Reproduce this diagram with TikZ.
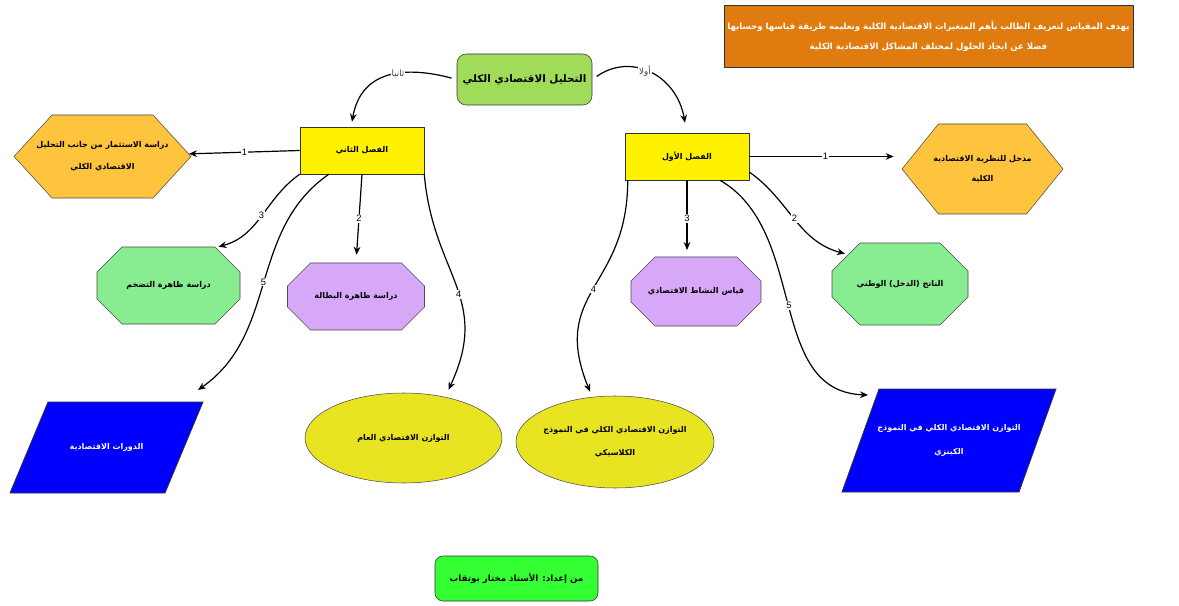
\documentclass[tikz,border=0pt]{standalone}
\usepackage{fontspec}
\newfontfamily\arabicfont[Script=Arabic]{DejaVu Sans}
\newfontfamily\latinfont{Liberation Sans}
\TeXXeTstate=1
\usetikzlibrary{shapes.geometric, shapes.misc, shapes.symbols, calc, arrows.meta}
\definecolor{boxorange}{RGB}{224,123,16}
\definecolor{rootgreen}{RGB}{160,220,90}
\definecolor{hexgold}{RGB}{255,196,61}
\definecolor{octgreen}{RGB}{136,236,144}
\definecolor{octpurple}{RGB}{216,168,248}
\definecolor{ellyellow}{RGB}{232,228,34}
\definecolor{signgreen}{RGB}{51,255,51}
\newcommand{\artxt}[1]{\makebox[0pt]{\beginR #1\endR}}
\newcommand{\arword}[1]{\beginR #1\endR}
\tikzset{
    artext/.style={font=\arabicfont\bfseries\fontsize{6}{15}\selectfont, align=center, inner sep=0pt},
    chapter/.style={artext, rectangle, draw=black!80, fill=yellow, minimum width=93pt, minimum height=35.25pt},
    hexa/.style={artext, signal, signal to=east and west, draw=black!70, fill=hexgold},
    octa/.style={artext, chamfered rectangle, draw=black!70},
    oval/.style={artext, ellipse, draw=black!70, fill=ellyellow},
    link/.style={-{Stealth[length=6pt,width=5pt]}, line width=0.9pt},
    num/.style={font=\latinfont\fontsize{7}{8}\selectfont, fill=white, inner sep=0.8pt},
    word/.style={font=\arabicfont\fontsize{6.5}{7}\selectfont, text=black!75, fill=white, inner sep=0.8pt},
}

\begin{document}
\begin{tikzpicture}[x=0.75pt, y=0.75pt]
            \useasboundingbox (0,0) rectangle (1179,-606);
            \fill[white] (0,0) rectangle (1179,-606);
            \node[artext, rectangle, draw=black!80, fill=boxorange, text=white, minimum width=306.75pt, minimum height=46.5pt,
                font=\arabicfont\bfseries\fontsize{6.4}{15}\selectfont] (aim) at (928.5,-36)
                {\artxt{يهدف المقياس لتعريف الطالب بأهم المتغيرات الاقتصادية الكلية وتعليمه طريقة قياسها وحسابها}\\
                 \artxt{فضلا عن ايجاد الحلول لمختلف المشاكل الاقتصادية الكلية}};
            \node[artext, rounded corners=7pt, draw=black!80, fill=rootgreen, minimum width=101.25pt, minimum height=38.25pt,
                font=\arabicfont\bfseries\fontsize{7.8}{10}\selectfont] (root) at (524.5,-79.5) {\artxt{التحليل الاقتصادي الكلي}};
            \node[chapter] (ch2) at (362,-150.5) {\artxt{الفصل الثاني}};
            \node[chapter] (ch1) at (687,-156.5) {\artxt{الفصل الأول}};

            \node[hexa, signal pointer angle=95, minimum width=132.75pt, minimum height=62.25pt,
                font=\arabicfont\bfseries\fontsize{6}{16.5}\selectfont] (hexL) at (102.5,-156.5)
                {\artxt{دراسة الاستثمار من جانب التحليل}\\\artxt{الاقتصادي الكلي}};
            \node[hexa, signal pointer angle=102, minimum width=120.75pt, minimum height=67.5pt] (hexR) at (982.5,-169)
                {\artxt{مدخل للنظرية الاقتصادية}\\\artxt{الكلية}};

            \node[octa, fill=octgreen, minimum width=107.25pt, minimum height=57.75pt,
                chamfered rectangle xsep=31.5pt, chamfered rectangle ysep=15.75pt] (octGL) at (168.5,-285.5) {\arword{دراسة ظاهرة التضخم}};
            \node[octa, fill=octpurple, minimum width=102.75pt, minimum height=50.25pt,
                chamfered rectangle xsep=30pt, chamfered rectangle ysep=14.25pt] (octPL) at (356,-296.5) {\arword{دراسة ظاهرة البطالة}};
            \node[octa, fill=octpurple, minimum width=97.5pt, minimum height=51.75pt,
                chamfered rectangle xsep=28.5pt, chamfered rectangle ysep=15pt] (octPR) at (696,-291.5) {\arword{قياس النشاط الاقتصادي}};
            \node[octa, fill=octgreen, minimum width=102pt, minimum height=61.5pt,
                chamfered rectangle xsep=30pt, chamfered rectangle ysep=18pt] (octGR) at (900,-284) {\arword{الناتج (الدخل) الوطني}};

            \foreach \nm/\cx/\cy/\a/\b/\h in {parL/106.5/-447.5/58.5/96.5/45.5, parR/949/-440.5/70/107/51.5} {
                \filldraw[fill=blue, draw=black!80, line width=0.6pt] (\cx-\a,\cy+\h) coordinate (\nm tl) -- (\cx+\b,\cy+\h) coordinate (\nm tr)
                    -- (\cx+\a,\cy-\h) -- (\cx-\b,\cy-\h) -- cycle;
            }
            \node[artext, text=white] (parL) at (106.5,-447.5) {\artxt{الدورات الاقتصادية}};
            \node[artext, text=white, font=\arabicfont\bfseries\fontsize{6}{18}\selectfont] (parR) at (949,-440.5)
                {\artxt{التوازن الاقتصادي الكلي في النموذج}\\\artxt{الكينزي}};
            \node[oval, minimum width=147.75pt, minimum height=67.5pt] (ellL) at (403.5,-438) {\artxt{التوازن الاقتصادي العام}};
            \node[oval, minimum width=148.5pt, minimum height=69pt, font=\arabicfont\bfseries\fontsize{6}{17}\selectfont] (ellR) at (615,-442)
                {\artxt{التوازن الاقتصادي الكلي في النموذج}\\\artxt{الكلاسيكي}};

            \node[artext, rounded corners=6pt, draw=black!80, fill=signgreen, minimum width=122.25pt, minimum height=33.75pt,
                font=\arabicfont\bfseries\fontsize{6.5}{9}\selectfont] (credit) at (516.5,-578.5) {\artxt{من إعداد: الأستاذ مختار بوتقاب}};

            \draw[link, shorten <=4pt] (root.west) to[out=165, in=80, looseness=1.2] node[word, pos=0.42] {\arword{ثانيا}} ($(ch2.north)+(-10,5)$);
            \draw[link, shorten <=4pt] (root.east) to[out=35, in=100, looseness=1.2] node[word, pos=0.45] {\arword{أولا}} ($(ch1.north)+(-2,10)$);

            \draw[link] (ch2.west) -- node[num] {1} (hexL);
            \draw[link] (ch2.south west) to[out=215, in=15] node[num] {3} ($(octGL.north)+(50,0)$);
            \draw[link, shorten >=6pt] (ch2.south) -- node[num] {2} (octPL.north);
            \draw[link] ($(ch2.south west)+(29,0)$) to[out=215, in=35] node[num] {5} ($(parLtr)+(-5,12)$);
            \draw[link] (ch2.south east) to[out=-85, in=65, looseness=1.2] node[num, pos=0.55] {4} ($(ellL.north)+(45,3)$);

            \draw[link, shorten >=6pt] (ch1.east) -- node[num] {1} (ch1.east -| hexR.west);
            \draw[link, shorten >=5pt] (ch1.south) -- node[num] {3} (ch1.south |- octPR.north);
            \draw[link] (ch1.-14) to[out=-35, in=165] node[num] {2} ($(octGR.north)+(-55,-11)$);
            \draw[link] ($(ch1.south west)+(3,0)$) to[out=-90, in=112, looseness=1.3] node[num] {4} ($(ellR.north)+(-25,4)$);
            \draw[link] ($(ch1.south)+(33,0)$) to[out=-30, in=178] node[num] {5} ($(parRtl)+(-11,-6)$);
\end{tikzpicture}
\end{document}
